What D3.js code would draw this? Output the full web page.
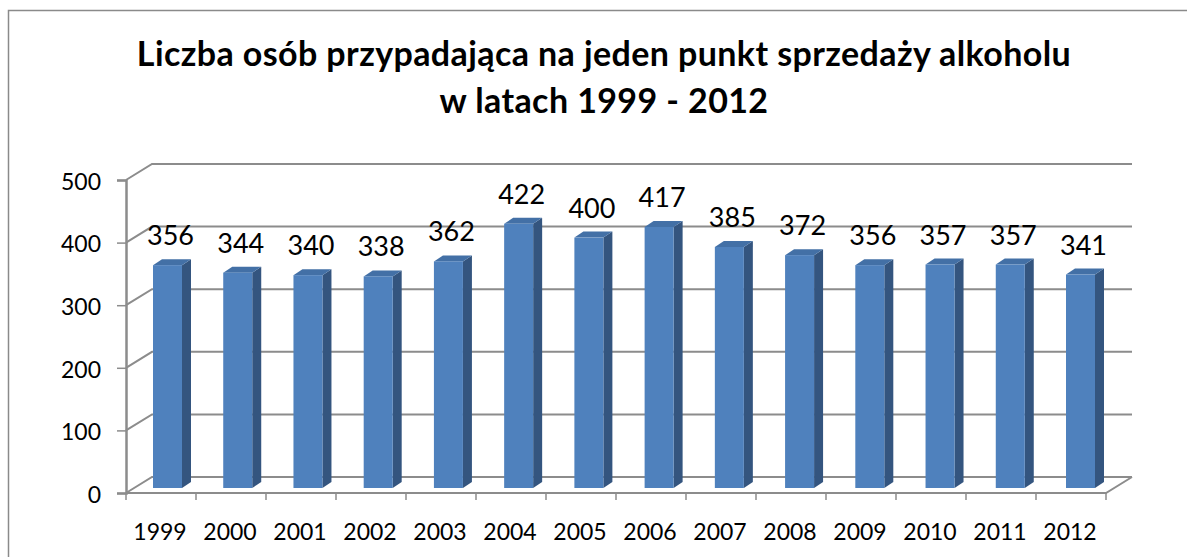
<!DOCTYPE html>
<html>
<head>
<meta charset="utf-8">
<script src="https://cdn.jsdelivr.net/npm/d3@7"></script>
<style>
  body { margin: 0; background: #fff; }
  svg text { font-family: Lato, "Open Sans", sans-serif; }
</style>
</head>
<body>
<div id="chart"></div>
<script>
// data
const years = ["1999","2000","2001","2002","2003","2004","2005","2006","2007","2008","2009","2010","2011","2012"];
const values = [356, 344, 340, 338, 362, 422, 400, 417, 385, 372, 356, 357, 357, 341];
const yTicks = [0, 100, 200, 300, 400, 500];
const titleLines = ["Liczba osób przypadająca na jeden punkt sprzedaży alkoholu", "w latach 1999 - 2012"];

const W = 1187, H = 557;
const depth = { dx: 26, dy: -16 };   // back wall offset
const barOff = { dx: 0, dy: -5 };    // bar front face offset from front plane
const barDepth = { dx: 9, dy: -6 };

const svg = d3.select("#chart").append("svg")
  .attr("width", W).attr("height", H);

// outer frame (only left and top visible)
svg.append("path")
  .attr("d", "M8.5," + H + " L8.5,10.5 L" + W + ",10.5")
  .attr("fill", "none").attr("stroke", "#8a8a8a").attr("stroke-width", 1.5);

// title
const title = svg.append("g");
title.selectAll("text").data(titleLines).enter().append("text")
  .attr("x", 604)
  .attr("y", (d, i) => 66 + i * 47)
  .attr("text-anchor", "middle")
  .attr("font-size", 34)
  .attr("font-weight", "bold")
  .attr("letter-spacing", 0.4)
  .attr("fill", "#000")
  .text(d => d);

// scales
const x = d3.scaleBand().domain(years).range([126, 1106]);
const y = d3.scaleLinear().domain([0, 500]).range([493, 180]);

const grid = svg.append("g").attr("fill", "none").attr("stroke", "#8c8c8c").attr("stroke-width", 2);

// back wall gridlines + left wall diagonals
yTicks.forEach(t => {
  grid.append("path")
    .attr("d", "M" + x.range()[0] + "," + y(t) +
      " L" + (x.range()[0] + depth.dx) + "," + (y(t) + depth.dy) +
      " L" + (x.range()[1] + depth.dx) + "," + (y(t) + depth.dy));
});
// floor: front edge and right diagonal
grid.append("path")
  .attr("d", "M" + x.range()[0] + "," + y(0) + " L" + x.range()[1] + "," + y(0) +
    " L" + (x.range()[1] + depth.dx) + "," + (y(0) + depth.dy));

// y axis
const yAxis = svg.append("g")
  .attr("transform", "translate(" + x.range()[0] + ",0)")
  .call(d3.axisLeft(y).tickValues(yTicks).tickSize(9).tickPadding(16));
yAxis.select(".domain").attr("stroke", "#8c8c8c").attr("stroke-width", 2.5);
yAxis.selectAll(".tick line").attr("stroke", "#8c8c8c").attr("stroke-width", 1.5);
yAxis.selectAll(".tick text").attr("font-size", 23).attr("fill", "#000")
  .attr("font-family", "Lato, sans-serif").attr("dy", "0.4em");

// x axis: ticks at category boundaries, labels centred
const xAxis = svg.append("g");
const bounds = years.map(d => x(d)).concat([x.range()[1]]);
xAxis.selectAll("line").data(bounds).enter().append("line")
  .attr("x1", d => d).attr("x2", d => d)
  .attr("y1", y(0)).attr("y2", y(0) + 7)
  .attr("stroke", "#8c8c8c").attr("stroke-width", 1.5);
xAxis.selectAll("text").data(years).enter().append("text")
  .attr("x", d => x(d) + x.bandwidth() / 2 - 1)
  .attr("y", 540)
  .attr("text-anchor", "middle")
  .attr("font-size", 23)
  .attr("fill", "#000")
  .text(d => d);

// 3d bars
const bw = 29;
const bars = svg.append("g").selectAll("g").data(values).enter().append("g");
const bx = (i) => x(years[i]) + 27 + (i / 13) * 3 + barOff.dx;

bars.each(function (v, i) {
  const g = d3.select(this);
  const x0 = bx(i), x1 = x0 + bw;
  const yb = y(0) + barOff.dy, yt = y(v) + barOff.dy;
  // side face
  g.append("path")
    .attr("d", "M" + x1 + "," + yb + " L" + (x1 + barDepth.dx) + "," + (yb + barDepth.dy) +
      " L" + (x1 + barDepth.dx) + "," + (yt + barDepth.dy) + " L" + x1 + "," + yt + "Z")
    .attr("fill", "#34557f");
  // top face
  g.append("path")
    .attr("d", "M" + x0 + "," + yt + " L" + (x0 + barDepth.dx) + "," + (yt + barDepth.dy) +
      " L" + (x1 + barDepth.dx) + "," + (yt + barDepth.dy) + " L" + x1 + "," + yt + "Z")
    .attr("fill", "#4370a6");
  // front face
  g.append("rect")
    .attr("x", x0).attr("y", yt)
    .attr("width", bw).attr("height", yb - yt)
    .attr("fill", "#4f81bd");
  // value label
  g.append("text")
    .attr("x", x0 + bw / 2 + 3)
    .attr("y", yt + barDepth.dy - 14)
    .attr("text-anchor", "middle")
    .attr("font-size", 27)
    .attr("fill", "#000")
    .text(v);
});
</script>
</body>
</html>
